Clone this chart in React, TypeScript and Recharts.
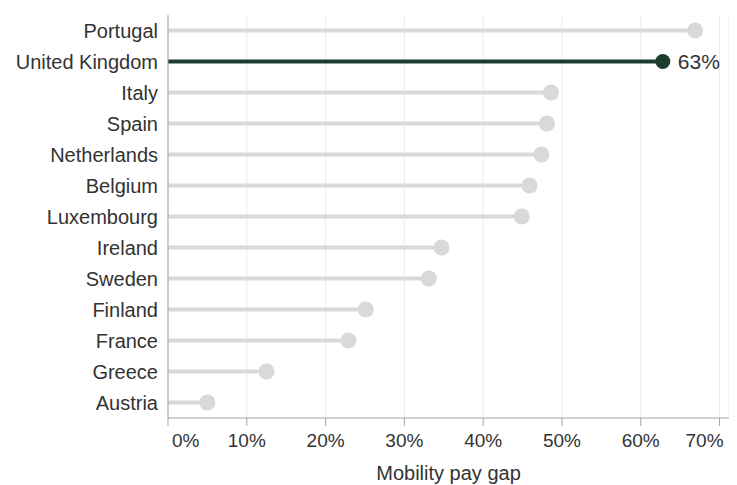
import React from 'react';
import {
  BarChart,
  Bar,
  XAxis,
  YAxis,
  CartesianGrid,
  LabelList,
  Label
} from 'recharts';

const countries = [
  'Portugal',
  'United Kingdom',
  'Italy',
  'Spain',
  'Netherlands',
  'Belgium',
  'Luxembourg',
  'Ireland',
  'Sweden',
  'Finland',
  'France',
  'Greece',
  'Austria'
];
const payGaps = [0.669, 0.628, 0.486, 0.481, 0.474, 0.459, 0.449, 0.347, 0.331, 0.251, 0.229, 0.125, 0.05];
const xTicks = [0, 0.1, 0.2, 0.3, 0.4, 0.5, 0.6, 0.7];
const highlighted = 'United Kingdom';

const data = countries.map((country, i) => ({ country, gap: payGaps[i] }));

const FONT = '"Liberation Sans", Arial, sans-serif';
const GREY = '#d9d9d9';
const DARK = '#1f3d2e';

const pct = (v: number) => `${Math.round(v * 100)}%`;

const Lollipop = (props: any) => {
  const { x, y, width, height, index } = props;
  const isHi = countries[index] === highlighted;
  const cy = y + height / 2;
  const color = isHi ? DARK : GREY;
  return (
    <g>
      <line x1={x} y1={cy} x2={x + width} y2={cy} stroke={color} strokeWidth={4} />
      <circle cx={x + width} cy={cy} r={isHi ? 7.5 : 8} fill={color} />
    </g>
  );
};

const XTick = (props: any) => {
  const { x, y, payload, index } = props;
  let anchor: 'start' | 'middle' | 'end' = 'middle';
  let dx = 0;
  if (index === 0) {
    anchor = 'start';
    dx = 4;
  } else if (index === xTicks.length - 1) {
    anchor = 'end';
    dx = 4;
  }
  return (
    <text x={x + dx} y={y} dy="0.71em" textAnchor={anchor} fontSize={19} fill="#333" fontFamily={FONT}>
      {pct(payload.value)}
    </text>
  );
};

const ValueLabel = (props: any) => {
  const { x, y, width, height, index, value } = props;
  if (countries[index] !== highlighted) return null;
  return (
    <text
      x={x + width + 15}
      y={y + height / 2}
      dy="0.355em"
      fontSize={21}
      fill="#333"
      fontFamily={FONT}
    >
      {pct(value)}
    </text>
  );
};

export default function App() {
  return (
    <div style={{ fontFamily: FONT }}>
      <BarChart
        width={729}
        height={477}
        data={data}
        layout="vertical"
        margin={{ top: 7, right: 8, bottom: 4, left: 0 }}
        barCategoryGap={4}
      >
        <CartesianGrid horizontal={false} stroke="#ebebeb" />
        <XAxis
          type="number"
          domain={[0, 0.712]}
          ticks={xTicks}
          height={63}
          stroke="#a6a6a6"
          tickSize={8}
          tickMargin={8}
          tick={<XTick />}
          interval={0}
        >
          <Label
            value="Mobility pay gap"
            position="insideBottom"
            offset={1}
            fontSize={20}
            fill="#333"
            fontFamily={FONT}
          />
        </XAxis>
        <YAxis
          type="category"
          dataKey="country"
          width={160}
          stroke="#a6a6a6"
          tickLine={false}
          tickSize={0}
          tickMargin={10}
          interval={0}
          tick={{ fontSize: 20, fill: '#333', fontFamily: FONT }}
        />
        <Bar dataKey="gap" shape={<Lollipop />} isAnimationActive={false}>
          <LabelList dataKey="gap" content={<ValueLabel />} />
        </Bar>
      </BarChart>
    </div>
  );
}
